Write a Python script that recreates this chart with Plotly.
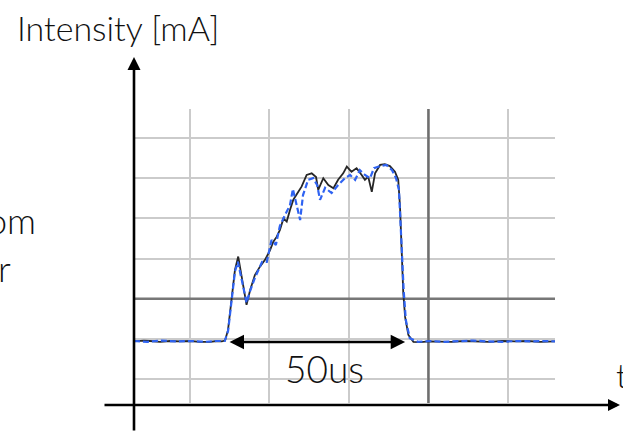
import plotly.graph_objects as go

# ---- data (time in microseconds, intensity in mA) ----
t_black = [-25.7, -23.0, -21.3, -18.5, -15.7, -13.0, -10.2, -7.5, -4.7, -2.8, -1.4, -0.55,
           0.28, 1.3, 2.2, 3.1, 4.1, 5.0, 5.4, 6.4, 7.7, 9.1, 10.5, 11.9, 12.8, 13.7, 14.6,
           15.6, 16.5, 17.4, 18.3, 19.4, 20.6, 22.0, 23.4, 24.6, 25.2, 26.6, 28.0, 29.4,
           30.7, 32.1, 33.1, 34.4, 35.8, 37.2, 38.1, 39.0, 40.0, 40.9, 42.3, 43.6, 45.0,
           46.4, 47.3, 47.8, 48.0, 48.3, 48.7, 49.2, 50.1, 51.5, 53.3, 56.0, 58.8, 62.0,
           65.5, 69.0, 72.5, 76.0, 79.5, 83.0, 86.5, 90.6]
i_black = [-0.6, -0.4, -0.5, -0.7, -0.5, -0.6, -0.5, -0.7, -0.7, -0.5, -0.6, -0.4,
           2.2, 9.7, 17.2, 20.5, 15.5, 10.5, 8.5, 12.2, 15.9, 18.0, 19.7, 22.1, 24.2, 25.4,
           27.1, 30.0, 29.2, 32.1, 34.6, 36.2, 37.9, 40.8, 41.2, 40.3, 37.1, 40.0, 38.3,
           37.5, 39.6, 41.2, 42.9, 41.6, 42.5, 40.8, 39.6, 40.4, 36.6, 41.2, 43.3, 43.5,
           43.0, 41.6, 39.6, 32.9, 27.1, 19.7, 11.4, 5.5, 1.0, -0.7, -0.8, -0.6, -0.6,
           -0.7, -0.5, -0.6, -0.7, -0.5, -0.6, -0.5, -0.7, -0.6]

t_blue = [-25.7, -22.0, -18.0, -14.0, -10.0, -6.0, -3.0, -0.6, 0.3, 1.3, 2.2, 3.0, 4.1,
          5.0, 5.4, 6.4, 7.7, 9.7, 11.0, 12.3, 13.5, 14.6, 16.0, 17.4, 18.2, 19.3, 20.2,
          21.0, 22.4, 23.8, 24.9, 25.7, 27.1, 28.9, 30.7, 32.6, 34.0, 35.4, 36.7, 38.1,
          39.5, 40.6, 42.3, 44.0, 45.6, 46.7, 47.5, 47.9, 48.3, 48.8, 49.4, 50.5, 52.8,
          56.0, 60.0, 64.0, 68.0, 72.0, 76.0, 80.0, 84.0, 88.0, 90.6]
i_blue = [-0.5, -0.7, -0.4, -0.6, -0.5, -0.7, -0.5, -0.5, 2.0, 9.5, 16.8, 19.2, 15.0,
          10.8, 9.0, 12.0, 15.2, 19.2, 19.2, 24.6, 23.4, 28.1, 30.8, 33.3, 37.3, 33.3,
          29.6, 35.8, 39.6, 40.0, 38.3, 34.6, 37.6, 36.3, 38.3, 40.0, 40.8, 39.6, 42.0,
          40.8, 40.0, 42.5, 43.0, 43.3, 42.0, 40.0, 37.1, 29.6, 20.9, 12.2, 4.7, 0.2, -0.7,
          -0.5, -0.7, -0.6, -0.4, -0.6, -0.7, -0.5, -0.6, -0.5, -0.6]

# axis calibration (grid every 21.96 us / 10 mA)
x_range = [-25.69, 90.61]
y_range = [-15.92, 57.21]
x_tick0, x_dtick = -10.22, 21.96
y_dtick = 10

pulse_start, pulse_end, arrow_level = 0.3, 49.2, -0.75
marker_t, marker_i = 55.66, 10

W, H = 623, 432
FONT = "Lato"

fig = go.Figure()
fig.add_trace(go.Scatter(x=t_black, y=i_black, mode="lines",
                         line=dict(color="#262626", width=1.8), hoverinfo="skip"))
fig.add_trace(go.Scatter(x=t_blue, y=i_blue, mode="lines",
                         line=dict(color="#2f63f2", width=2.2, dash="6px,3px"), hoverinfo="skip"))

# darker marker lines of the scope grid
fig.add_shape(type="line", xref="x", yref="y", x0=marker_t, x1=marker_t,
              y0=y_range[0], y1=y_range[1], line=dict(color="#6e6e6e", width=2.5),
              layer="between")
fig.add_shape(type="line", xref="x", yref="y", x0=x_range[0], x1=x_range[1],
              y0=marker_i, y1=marker_i, line=dict(color="#777777", width=2.5), layer="between")

annotations = [
    # y axis arrow
    dict(xref="paper", yref="paper", x=134 / W, y=(H - 57) / H, ax=0, ay=375,
         showarrow=True, arrowhead=2, arrowsize=1, arrowwidth=2.6, arrowcolor="black", text=""),
    # x axis arrow
    dict(xref="paper", yref="paper", x=620 / W, y=(H - 405) / H, ax=-517, ay=0,
         showarrow=True, arrowhead=2, arrowsize=1, arrowwidth=2.4, arrowcolor="black", text=""),
    # 50us double arrow
    dict(xref="x", yref="y", x=pulse_end, y=arrow_level, axref="x", ayref="y",
         ax=pulse_start, ay=arrow_level, showarrow=True, arrowhead=2, arrowside="end+start",
         arrowsize=1.2, arrowwidth=2.4, arrowcolor="black", text=""),
    dict(xref="paper", yref="paper", x=324.5 / W, y=(H - 368) / H, text="50us",
         showarrow=False, xanchor="center", yanchor="middle",
         font=dict(family=FONT, size=37, color="#111", weight=300)),
    dict(xref="paper", yref="paper", x=118 / W, y=(H - 27) / H, text="Intensity [mA]",
         showarrow=False, xanchor="center", yanchor="middle",
         font=dict(family=FONT, size=34, color="#111", weight=300)),
    dict(xref="paper", yref="paper", x=38 / W, y=(H - 220) / H, text="om",
         showarrow=False, xanchor="right", yanchor="middle",
         font=dict(family=FONT, size=36, color="#111", weight=300)),
    dict(xref="paper", yref="paper", x=13 / W, y=(H - 268) / H, text="r",
         showarrow=False, xanchor="right", yanchor="middle",
         font=dict(family=FONT, size=36, color="#111", weight=300)),
    dict(xref="paper", yref="paper", x=614 / W, y=(H - 374) / H, text="t",
         showarrow=False, xanchor="left", yanchor="middle",
         font=dict(family=FONT, size=34, color="#111", weight=300)),
]

fig.update_layout(
    width=W, height=H, margin=dict(l=0, r=0, t=0, b=0),
    paper_bgcolor="white", plot_bgcolor="white", showlegend=False,
    annotations=annotations,
    xaxis=dict(domain=[134 / W, 555 / W], range=x_range, tick0=x_tick0, dtick=x_dtick,
               showgrid=True, gridcolor="#cbcbcb", gridwidth=2.2, zeroline=False,
               showline=False, showticklabels=False, ticks=""),
    yaxis=dict(domain=[(H - 403) / H, (H - 109) / H], range=y_range, tick0=0, dtick=y_dtick,
               showgrid=True, gridcolor="#cbcbcb", gridwidth=2.2, zeroline=False,
               showline=False, showticklabels=False, ticks=""),
)

fig.write_html("out.html", config={"displayModeBar": False},
               post_script="document.body.style.margin='0';document.body.style.overflow='hidden';")
